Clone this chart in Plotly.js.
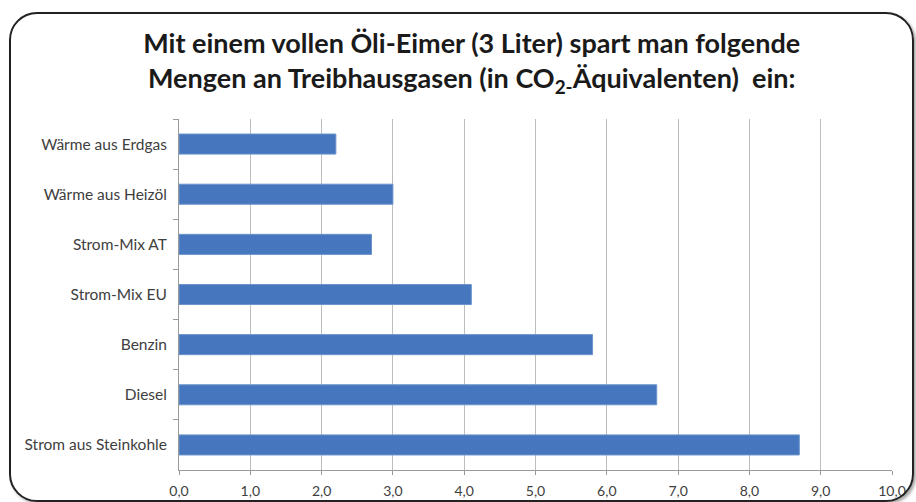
<!DOCTYPE html>
<html><head><meta charset="utf-8">
<script src="https://cdn.plot.ly/plotly-3.0.1.min.js"></script>
<style>
html,body{margin:0;padding:0;background:#fff;}
#wrap{position:relative;width:916px;height:502px;overflow:hidden;}
#chart{width:916px;height:502px;}
#frame{position:absolute;left:9px;top:12px;width:905px;height:490px;border:2px solid #222;border-radius:28px;box-shadow:2px 2px 3px rgba(0,0,0,0.35);pointer-events:none;box-sizing:border-box;}
</style></head>
<body>
<div id="wrap"><div id="chart"></div><div id="frame"></div></div>
<script>
const categories = ["Wärme aus Erdgas","Wärme aus Heizöl","Strom-Mix AT","Strom-Mix EU","Benzin","Diesel","Strom aus Steinkohle"];
const values = [2.2, 3.0, 2.7, 4.1, 5.8, 6.7, 8.7];
const xTicks = [0,1,2,3,4,5,6,7,8,9,10];

const trace = {
  type: 'bar', orientation: 'h',
  y: categories, x: values,
  width: 0.4,
  marker: {color: '#4677BE', line: {color: '#6C94CC', width: 1}},
  hoverinfo: 'x+y'
};
const layout = {
  width: 916, height: 502,
  margin: {l: 179, r: 24, t: 119, b: 32},
  paper_bgcolor: '#fff', plot_bgcolor: '#fff',
  separators: ',.',
  showlegend: false,
  title: {
    text: 'Mit einem vollen Öli-Eimer (3 Liter) spart man folgende<br>Mengen an Treibhausgasen (in CO<sub>2-</sub>Äquivalenten)  ein:',
    font: {family: 'Lato, "Open Sans", sans-serif', size: 27, color: '#1a1a1a', weight: 'bold'},
    x: 0.515, xref: 'container', xanchor: 'center',
    y: 1 - 53/502, yref: 'container', yanchor: 'top'
  },
  xaxis: {
    range: [0, 10], tickvals: xTicks, tickformat: '.1f',
    showgrid: true, gridcolor: '#BDBDBD', gridwidth: 1,
    zeroline: false, showline: true, linecolor: '#9A9A9A', linewidth: 1,
    ticks: 'outside', ticklen: 4, tickcolor: '#9A9A9A',
    ticklabelstandoff: 4,
    tickfont: {family: 'Lato, "Open Sans", sans-serif', size: 14, color: '#404040'},
    fixedrange: true
  },
  yaxis: {
    autorange: 'reversed', type: 'category',
    showgrid: false, zeroline: false,
    showline: true, linecolor: '#9A9A9A', linewidth: 1,
    ticks: 'outside', ticklen: 5, tickcolor: '#9A9A9A', tickson: 'boundaries',
    ticklabelstandoff: 8,
    tickfont: {family: 'Lato, "Open Sans", sans-serif', size: 15.5, color: '#404040'},
    fixedrange: true
  }
};
Plotly.newPlot('chart', [trace], layout, {displayModeBar: false, staticPlot: true});
</script>
</body></html>
